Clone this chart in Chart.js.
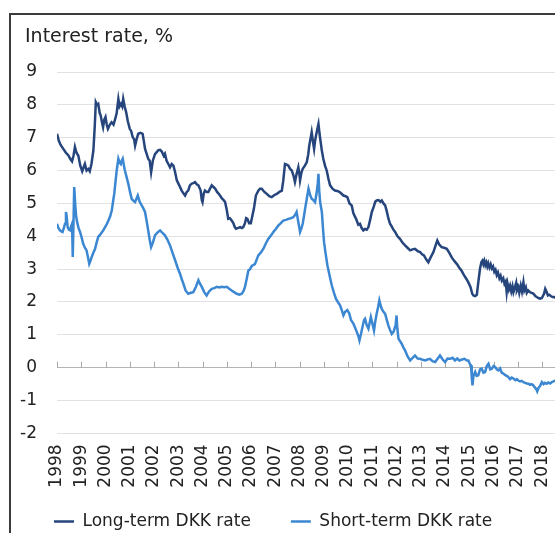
<!DOCTYPE html>
<html>
<head>
<meta charset="utf-8">
<script src="https://cdn.jsdelivr.net/npm/chart.js@4"></script>
<style>
  html, body { margin: 0; padding: 0; background: #fff; overflow: hidden; }
  #frame { position: absolute; left: 9px; top: 13px; width: 640px; height: 518px;
           border-left: 2px solid #3c3c3c; border-top: 2px solid #3c3c3c; }
  #wrap { position: absolute; left: 0; top: 0; width: 622px; height: 540px; }
</style>
</head>
<body>
<div id="frame"></div>
<div id="wrap"><canvas id="chart"></canvas></div>
<script>
const yearLabels = ["1998","1999","2000","2001","2002","2003","2004","2005","2006","2007",
  "2008","2009","2010","2011","2012","2013","2014","2015","2016","2017","2018"];

const longDates = [1998.00,1998.08,1998.15,1998.26,1998.36,1998.47,1998.55,1998.62,1998.68,1998.74,1998.80,1998.88,1998.96,
  1999.04,1999.10,1999.15,1999.22,1999.29,1999.35,1999.42,1999.50,1999.56,1999.60,1999.65,1999.70,1999.76,1999.80,1999.86,1999.90,1999.95,
  2000.00,2000.05,2000.10,2000.18,2000.25,2000.33,2000.40,2000.46,2000.53,2000.58,2000.64,2000.69,2000.73,2000.79,2000.85,2000.92,
  2001.00,2001.06,2001.12,2001.18,2001.22,2001.28,2001.35,2001.44,2001.53,2001.58,2001.63,2001.70,2001.76,2001.82,2001.88,2001.95,
  2002.04,2002.11,2002.18,2002.25,2002.32,2002.40,2002.45,2002.52,2002.59,2002.66,2002.73,2002.80,2002.87,2002.94,
  2003.04,2003.14,2003.22,2003.28,2003.35,2003.41,2003.48,2003.55,2003.62,2003.69,2003.76,2003.83,2003.92,2003.97,
  2004.00,2004.05,2004.10,2004.17,2004.24,2004.31,2004.38,2004.45,2004.52,2004.60,2004.66,2004.72,2004.80,2004.87,2004.93,
  2005.00,2005.06,2005.13,2005.20,2005.27,2005.33,2005.38,2005.45,2005.55,2005.62,2005.68,2005.75,2005.80,2005.85,2005.92,2005.99,
  2006.05,2006.12,2006.20,2006.30,2006.37,2006.44,2006.55,2006.65,2006.75,2006.85,2006.95,
  2007.06,2007.17,2007.27,2007.33,2007.40,2007.47,2007.54,2007.61,2007.68,2007.75,2007.81,2007.88,2007.95,
  2008.00,2008.02,2008.08,2008.13,2008.22,2008.30,2008.36,2008.40,2008.46,2008.50,2008.55,2008.60,2008.64,2008.68,2008.73,2008.78,2008.82,2008.87,2008.92,2008.98,
  2009.05,2009.12,2009.19,2009.26,2009.36,2009.46,2009.55,2009.64,2009.72,2009.81,2009.90,2009.97,
  2010.06,2010.15,2010.22,2010.33,2010.42,2010.49,2010.56,2010.63,2010.70,2010.77,2010.84,2010.91,2010.98,
  2011.06,2011.12,2011.18,2011.26,2011.33,2011.39,2011.46,2011.53,2011.60,2011.66,2011.73,2011.80,2011.87,2011.94,
  2012.04,2012.14,2012.25,2012.35,2012.45,2012.56,2012.66,2012.76,2012.87,2012.97,
  2013.05,2013.13,2013.22,2013.31,2013.40,2013.52,2013.60,2013.68,2013.76,2013.86,2013.96,
  2014.07,2014.17,2014.28,2014.38,2014.48,2014.58,2014.68,2014.78,2014.88,2014.97,
  2015.05,2015.12,2015.17,2015.24,2015.31,2015.37,2015.44,2015.50,2015.54,2015.58,2015.62,2015.66,2015.70,2015.74,2015.78,2015.83,2015.88,2015.93,2015.98,
  2016.03,2016.08,2016.13,2016.18,2016.24,2016.29,2016.34,2016.40,2016.45,2016.50,2016.54,2016.58,2016.63,2016.68,2016.73,2016.78,2016.82,2016.88,2016.93,2016.96,
  2017.02,2017.06,2017.12,2017.17,2017.23,2017.27,2017.33,2017.37,2017.43,2017.50,2017.57,2017.65,2017.72,2017.78,2017.85,2017.92,2017.99,
  2018.08,2018.13,2018.18,2018.24,2018.29,2018.36,2018.43,2018.50,2018.58];
const longRates = [7.12,6.90,6.78,6.66,6.55,6.46,6.35,6.28,6.45,6.72,6.55,6.45,6.15,
  5.98,6.10,6.20,6.00,6.05,5.98,6.20,6.61,7.40,8.08,8.00,8.03,7.75,7.68,7.45,7.32,7.55,
  7.63,7.40,7.27,7.40,7.47,7.40,7.57,7.75,8.18,7.95,8.03,7.95,8.18,7.95,7.78,7.50,
  7.27,7.20,7.02,6.95,6.76,6.95,7.12,7.15,7.12,6.90,6.66,6.50,6.36,6.30,5.95,6.30,
  6.50,6.56,6.62,6.63,6.58,6.45,6.51,6.30,6.20,6.10,6.20,6.15,5.95,5.70,
  5.55,5.39,5.30,5.24,5.35,5.39,5.55,5.60,5.62,5.65,5.58,5.55,5.40,5.10,
  5.04,5.30,5.39,5.35,5.35,5.45,5.55,5.50,5.45,5.35,5.30,5.24,5.15,5.10,5.04,
  4.80,4.53,4.55,4.48,4.40,4.28,4.23,4.25,4.28,4.25,4.28,4.40,4.55,4.53,4.40,4.40,
  4.60,4.85,5.24,5.39,5.45,5.45,5.35,5.29,5.22,5.19,5.25,
  5.29,5.35,5.39,5.70,6.20,6.18,6.15,6.05,6.00,5.85,5.65,5.90,6.10,
  5.85,5.70,5.95,6.05,6.15,6.26,6.50,6.76,7.00,7.17,6.90,6.66,6.90,7.07,7.25,7.42,7.15,6.87,6.60,6.36,
  6.15,6.00,5.75,5.55,5.45,5.39,5.38,5.35,5.30,5.24,5.22,5.19,
  5.00,4.94,4.70,4.53,4.35,4.38,4.25,4.18,4.22,4.20,4.28,4.50,4.74,
  4.90,5.05,5.09,5.10,5.05,5.09,5.00,4.94,4.75,4.55,4.38,4.30,4.20,4.13,
  4.00,3.92,3.80,3.72,3.65,3.57,3.60,3.62,3.55,3.52,
  3.45,3.42,3.30,3.21,3.35,3.52,3.70,3.87,3.75,3.67,3.65,
  3.62,3.50,3.35,3.25,3.16,3.05,2.95,2.82,2.70,2.58,
  2.45,2.25,2.20,2.18,2.22,2.60,3.01,3.22,3.26,3.15,3.25,3.12,3.20,3.08,3.18,3.05,3.15,3.02,3.08,
  2.92,2.98,2.82,2.90,2.72,2.80,2.65,2.72,2.55,2.62,2.30,2.55,2.38,2.50,2.32,2.48,2.30,2.45,2.58,2.35,
  2.45,2.28,2.50,2.32,2.60,2.35,2.45,2.28,2.35,2.30,2.28,2.25,2.18,2.15,2.12,2.10,2.12,
  2.25,2.40,2.32,2.20,2.22,2.18,2.15,2.15,2.12];

const shortDates = [1998.00,1998.06,1998.12,1998.18,1998.23,1998.28,1998.33,1998.37,1998.40,1998.44,1998.49,1998.54,1998.58,1998.62,1998.65,1998.68,1998.71,1998.75,1998.79,1998.83,1998.89,1998.95,
  1999.02,1999.08,1999.15,1999.22,1999.28,1999.33,1999.38,1999.43,1999.50,1999.57,1999.63,1999.70,1999.78,1999.85,1999.91,
  2000.00,2000.06,2000.12,2000.19,2000.26,2000.31,2000.36,2000.41,2000.46,2000.50,2000.53,2000.58,2000.63,2000.67,2000.71,2000.76,2000.80,2000.87,2000.94,
  2001.01,2001.08,2001.15,2001.22,2001.28,2001.33,2001.41,2001.49,2001.56,2001.63,2001.70,2001.76,2001.82,2001.88,2001.95,
  2002.04,2002.15,2002.25,2002.35,2002.45,2002.55,2002.66,2002.76,2002.87,2002.97,
  2003.07,2003.14,2003.21,2003.30,2003.41,2003.52,2003.62,2003.72,2003.83,2003.90,2003.97,
  2004.07,2004.17,2004.27,2004.38,2004.48,2004.59,2004.69,2004.79,2004.90,
  2005.00,2005.10,2005.20,2005.30,2005.41,2005.52,2005.62,2005.70,2005.75,2005.82,2005.89,2005.96,
  2006.03,2006.16,2006.30,2006.40,2006.51,2006.61,2006.71,2006.82,2006.92,
  2007.02,2007.13,2007.23,2007.33,2007.44,2007.54,2007.64,2007.74,2007.82,2007.88,2007.95,
  2008.02,2008.08,2008.13,2008.18,2008.23,2008.30,2008.37,2008.44,2008.50,2008.57,2008.64,2008.70,2008.75,2008.78,2008.81,2008.85,2008.92,2008.97,
  2009.01,2009.08,2009.15,2009.24,2009.33,2009.42,2009.50,2009.58,2009.67,2009.74,2009.81,2009.88,2009.97,
  2010.05,2010.12,2010.22,2010.30,2010.36,2010.43,2010.47,2010.54,2010.61,2010.66,2010.70,2010.77,2010.84,2010.90,2010.94,
  2011.00,2011.07,2011.12,2011.18,2011.24,2011.29,2011.34,2011.39,2011.46,2011.53,2011.60,2011.66,2011.73,2011.80,2011.88,2011.96,
  2012.00,2012.03,2012.08,2012.15,2012.21,2012.28,2012.35,2012.45,2012.56,2012.66,2012.76,2012.87,2012.97,
  2013.08,2013.18,2013.28,2013.38,2013.48,2013.59,2013.69,2013.79,2013.90,
  2014.00,2014.10,2014.21,2014.31,2014.41,2014.50,2014.59,2014.70,2014.80,2014.90,2014.96,
  2015.03,2015.07,2015.10,2015.13,2015.17,2015.24,2015.30,2015.37,2015.44,2015.51,2015.58,2015.65,2015.72,2015.79,2015.86,2015.93,
  2016.00,2016.06,2016.13,2016.20,2016.27,2016.33,2016.40,2016.47,2016.54,2016.61,2016.68,2016.75,2016.82,2016.90,2016.96,
  2017.02,2017.09,2017.16,2017.23,2017.30,2017.37,2017.44,2017.50,2017.57,2017.64,2017.70,2017.76,2017.80,2017.85,2017.92,2017.99,
  2018.06,2018.12,2018.19,2018.26,2018.33,2018.40,2018.47,2018.54,2018.60];
const shortRates = [4.38,4.25,4.18,4.15,4.13,4.25,4.38,4.74,4.60,4.28,4.20,4.18,4.30,4.38,3.37,4.40,5.50,4.99,4.60,4.43,4.25,4.13,
  3.95,3.77,3.65,3.57,3.35,3.16,3.25,3.37,3.50,3.62,3.80,3.98,4.05,4.12,4.18,
  4.30,4.38,4.48,4.60,4.79,5.05,5.29,5.65,6.00,6.20,6.36,6.25,6.20,6.30,6.36,6.15,6.00,5.80,5.60,
  5.35,5.14,5.08,5.04,5.15,5.24,5.05,4.94,4.85,4.74,4.45,4.18,3.90,3.67,3.80,
  4.03,4.12,4.18,4.10,4.03,3.90,3.72,3.50,3.27,3.05,
  2.86,2.70,2.56,2.35,2.25,2.28,2.30,2.45,2.66,2.55,2.46,
  2.30,2.20,2.32,2.40,2.42,2.46,2.44,2.46,2.45,
  2.46,2.40,2.35,2.30,2.25,2.22,2.25,2.35,2.46,2.70,2.96,3.00,
  3.10,3.15,3.42,3.50,3.62,3.78,3.92,4.02,4.13,
  4.22,4.33,4.40,4.48,4.50,4.53,4.55,4.58,4.65,4.74,4.43,
  4.13,4.25,4.38,4.60,4.84,5.15,5.45,5.25,5.14,5.10,5.04,5.30,5.60,5.90,5.40,5.04,4.74,4.20,
  3.82,3.45,3.11,2.80,2.50,2.28,2.10,2.00,1.90,1.75,1.59,1.70,1.75,
  1.65,1.45,1.34,1.20,1.09,0.95,0.83,1.05,1.29,1.45,1.49,1.30,1.19,1.40,1.54,
  1.35,1.13,1.40,1.64,1.85,2.05,1.90,1.79,1.70,1.64,1.45,1.29,1.15,1.03,1.10,1.30,
  1.59,1.20,0.88,0.80,0.73,0.62,0.53,0.35,0.22,0.30,0.37,0.28,0.27,
  0.24,0.22,0.25,0.27,0.20,0.17,0.27,0.37,0.25,
  0.17,0.28,0.27,0.30,0.22,0.28,0.22,0.25,0.27,0.22,0.22,
  0.10,0.07,-0.30,-0.54,-0.25,-0.13,-0.25,-0.23,-0.05,-0.03,-0.15,-0.13,0.05,0.12,-0.05,-0.03,
  0.05,0.02,-0.05,-0.08,-0.02,-0.15,-0.18,-0.22,-0.25,-0.28,-0.35,-0.30,-0.33,-0.38,-0.35,
  -0.39,-0.42,-0.40,-0.44,-0.46,-0.48,-0.49,-0.52,-0.50,-0.54,-0.60,-0.65,-0.72,-0.62,-0.55,-0.44,
  -0.50,-0.46,-0.49,-0.45,-0.48,-0.44,-0.42,-0.39,-0.40];

const seriesNames = ["Long-term DKK rate", "Short-term DKK rate"];
const seriesColors = ["#25457c", "#3c87d2"];

const toPoints = (xs, ys) => xs.map((x, i) => ({ x: x, y: ys[i] }));

// title in the top left corner and small year ticks on the zero line
const extras = {
  id: "extras",
  beforeDatasetsDraw(chart) {
    const { ctx, scales: { x, y } } = chart;
    const y0 = y.getPixelForValue(0);
    ctx.save();
    ctx.strokeStyle = "#a8a8a8";
    ctx.lineWidth = 1;
    yearLabels.forEach((lab) => {
      const px = Math.round(x.getPixelForValue(Number(lab))) + 0.5;
      ctx.beginPath();
      ctx.moveTo(px, y0 - 6);
      ctx.lineTo(px, y0);
      ctx.stroke();
    });
    ctx.restore();
  },
  afterDraw(chart) {
    const ctx = chart.ctx;
    ctx.save();
    ctx.font = "19px 'DejaVu Sans'";
    ctx.fillStyle = "#222";
    ctx.textBaseline = "alphabetic";
    ctx.fillText("Interest rate, %", 25, 42);
    ctx.restore();
  }
};

const ctx = document.getElementById("chart").getContext("2d");
new Chart(ctx, {
  type: "line",
  data: {
    datasets: [
      {
        label: seriesNames[0],
        data: toPoints(longDates, longRates),
        borderColor: seriesColors[0],
        backgroundColor: seriesColors[0],
        borderWidth: 2.5,
        pointRadius: 0,
        tension: 0,
      },
      {
        label: seriesNames[1],
        data: toPoints(shortDates, shortRates),
        borderColor: seriesColors[1],
        backgroundColor: seriesColors[1],
        borderWidth: 2.5,
        pointRadius: 0,
        tension: 0,
      },
    ],
  },
  options: {
    responsive: true,
    maintainAspectRatio: false,
    animation: false,
    layout: { padding: { left: 14, top: 72, right: 0, bottom: 0 } },
    scales: {
      x: {
        type: "linear",
        min: 1998,
        max: 2020,
        afterFit: (scale) => {
          // squeeze the axis box so the legend sits low; labels may overhang it
          scale.height = 39.6;
          scale._computeLabelArea = () => undefined;
        },
        grid: { display: false, drawTicks: false },
        border: { display: false },
        ticks: {
          stepSize: 1,
          autoSkip: false,
          maxRotation: 90,
          minRotation: 90,
          padding: 11,
          color: "#222",
          font: { family: "'DejaVu Sans'", size: 17 },
          callback: (v) => (yearLabels.includes(String(v)) ? String(v) : ""),
        },
      },
      y: {
        min: -2,
        max: 9,
        afterFit: (scale) => { scale.width = 43; },
        grid: {
          drawTicks: false,
          color: (c) => (c.tick && c.tick.value === 0 ? "#b4b4b4" : "#e2e2e2"),
          lineWidth: 1,
        },
        border: { display: false },
        ticks: {
          stepSize: 1,
          padding: 20,
          color: "#222",
          font: { family: "'DejaVu Sans'", size: 17 },
        },
      },
    },
    plugins: {
      legend: {
        position: "bottom",
        align: "start",
        labels: {
          usePointStyle: true,
          pointStyle: "line",
          pointStyleWidth: 20,
          padding: 40,
          color: "#222",
          font: { family: "'DejaVu Sans'", size: 17 },
        },
      },
      tooltip: { enabled: false },
    },
  },
  plugins: [extras],
});
</script>
</body>
</html>
